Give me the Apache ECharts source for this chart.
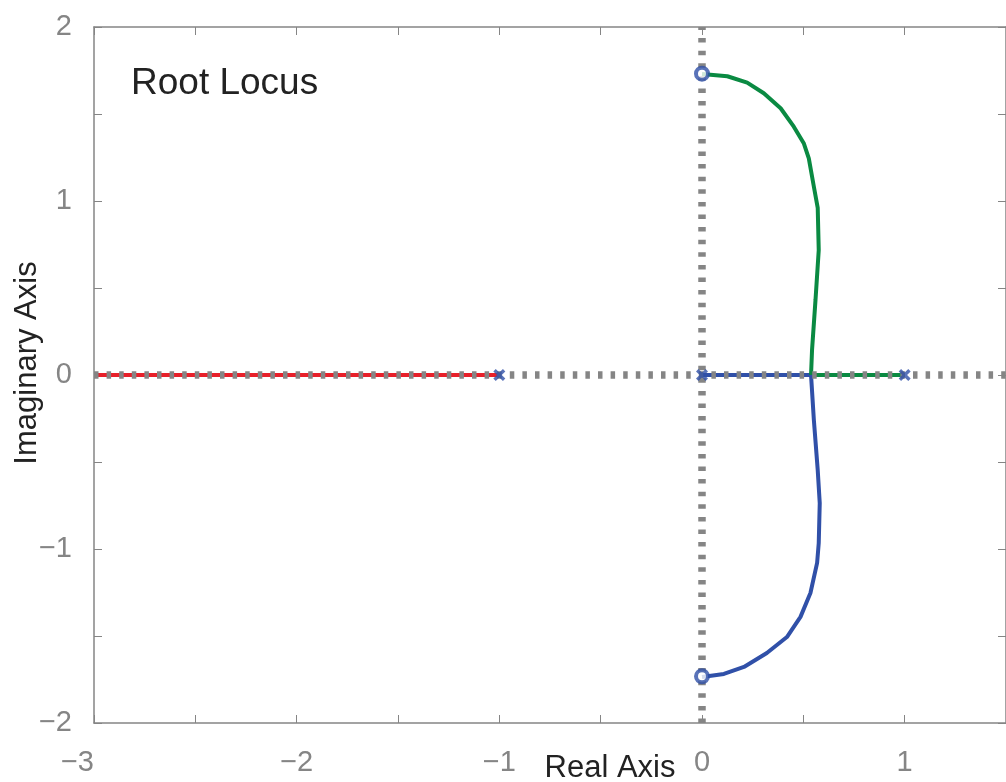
<!DOCTYPE html>
<html>
<head>
<meta charset="utf-8">
<script src="https://cdn.jsdelivr.net/npm/echarts@6/dist/echarts.min.js"></script>
<style>
html,body{margin:0;padding:0;background:#fff;}
#chart{width:1006px;height:782px;}
</style>
</head>
<body>
<div id="chart"></div>
<script>
// ---- data ----
var redBranch = [[-3, 0], [-1, 0]];
var blueReal = [[0, 0], [0.538, 0]];
var greenReal = [[1, 0], [0.538, 0]];
var greenUpper = [
  [0, 1.73], [0.125, 1.717], [0.223, 1.68], [0.305, 1.619], [0.388, 1.533],
  [0.453, 1.427], [0.502, 1.332], [0.527, 1.245], [0.552, 1.082], [0.571, 0.96],
  [0.576, 0.718], [0.56, 0.431], [0.543, 0.144], [0.538, 0]
];
var blueLower = [
  [0.538, 0], [0.552, -0.259], [0.571, -0.546], [0.581, -0.736], [0.576, -0.966],
  [0.568, -1.08], [0.535, -1.253], [0.486, -1.39], [0.419, -1.506], [0.32, -1.598],
  [0.207, -1.678], [0.108, -1.718], [0, -1.736]
];
var poles = [[-1, 0], [0, 0], [1, 0]];
var zeros = [[0, 1.732], [0, -1.732]];
var realAxisLine = [[-3, 0], [1.5, 0]];
var imagAxisLine = [[0, -2], [0, 2]];
var xLabelValues = [-3, -2, -1, 0, 1];
var yLabelValues = [-2, -1, 0, 1, 2];

var RED = '#e8202a', BLUE = '#3050a8', GREEN = '#0a8a42', GRAY = '#858585';
var FONT = 'Liberation Sans, Arial, sans-serif';

function fmt(vals) {
  return function (v) {
    for (var i = 0; i < vals.length; i++) {
      if (Math.abs(v - vals[i]) < 1e-9) return (vals[i] < 0 ? '\u2212' + Math.abs(vals[i]) : String(vals[i]));
    }
    return '';
  };
}

var crossPath = 'path://M0,2L2,0L5,3L8,0L10,2L7,5L10,8L8,10L5,7L2,10L0,8L3,5Z';

var chart = echarts.init(document.getElementById('chart'), null, {renderer: 'canvas'});
var axisCommon = {
  type: 'value',
  interval: 0.5,
  axisLine: {show: true, onZero: false, lineStyle: {color: GRAY, width: 1.5}},
  axisTick: {show: true, inside: true, length: 8, lineStyle: {color: GRAY, width: 1}},
  splitLine: {show: false}
};
chart.setOption({
  animation: false,
  backgroundColor: '#ffffff',
  grid: {left: 94, right: 0, top: 27, bottom: 59, containLabel: false},
  xAxis: [
    Object.assign({}, axisCommon, {
      min: -3, max: 1.5, position: 'bottom',
      axisLabel: {show: true, formatter: fmt(xLabelValues), color: GRAY, fontSize: 29,
        fontFamily: FONT, margin: 25, alignMinLabel: 'right', showMaxLabel: false}
    }),
    Object.assign({}, axisCommon, {
      min: -3, max: 1.5, position: 'top',
      axisLabel: {show: false}
    })
  ],
  yAxis: [
    Object.assign({}, axisCommon, {
      min: -2, max: 2, position: 'left',
      axisLabel: {show: true, formatter: fmt(yLabelValues), color: GRAY, fontSize: 29,
        fontFamily: FONT, margin: 22}
    }),
    Object.assign({}, axisCommon, {
      min: -2, max: 2, position: 'right',
      axisLabel: {show: false}
    })
  ],
  graphic: [
    {type: 'text', x: 131, y: 84, style: {text: 'Root Locus', fontSize: 37, verticalAlign: 'middle',
      fontFamily: FONT, fill: '#222'}},
    {type: 'text', x: 610, y: 768, style: {text: 'Real Axis', fontSize: 31, align: 'center', verticalAlign: 'middle',
      fontFamily: FONT, fill: '#222'}},
    {type: 'text', x: 27, y: 363, rotation: Math.PI / 2, style: {text: 'Imaginary Axis', fontSize: 31,
      align: 'center', verticalAlign: 'middle', fontFamily: FONT, fill: '#222'}}
  ],
  series: [
    {type: 'line', data: redBranch, symbol: 'none', lineStyle: {color: RED, width: 4}, z: 3},
    {type: 'line', data: blueReal, symbol: 'none', lineStyle: {color: BLUE, width: 4}, z: 3},
    {type: 'line', data: greenReal, symbol: 'none', lineStyle: {color: GREEN, width: 4}, z: 3},
    {type: 'line', data: greenUpper, symbol: 'none', lineStyle: {color: GREEN, width: 4}, z: 3},
    {type: 'line', data: blueLower, symbol: 'none', lineStyle: {color: BLUE, width: 4}, z: 3},
    {type: 'line', data: realAxisLine, symbol: 'none', lineStyle: {color: GRAY, width: 7.5, type: [4.5, 8.1]}, z: 4},
    {type: 'line', data: imagAxisLine, symbol: 'none', lineStyle: {color: GRAY, width: 7.5, type: [4.5, 8.1]}, z: 4},
    {type: 'scatter', data: poles, symbol: crossPath, symbolSize: 12, itemStyle: {color: BLUE}, z: 6},
    {type: 'scatter', data: zeros, symbol: 'circle', symbolSize: 12,
      itemStyle: {color: '#ffffff', borderColor: BLUE, borderWidth: 4}, z: 6}
  ]
});
</script>
</body>
</html>
